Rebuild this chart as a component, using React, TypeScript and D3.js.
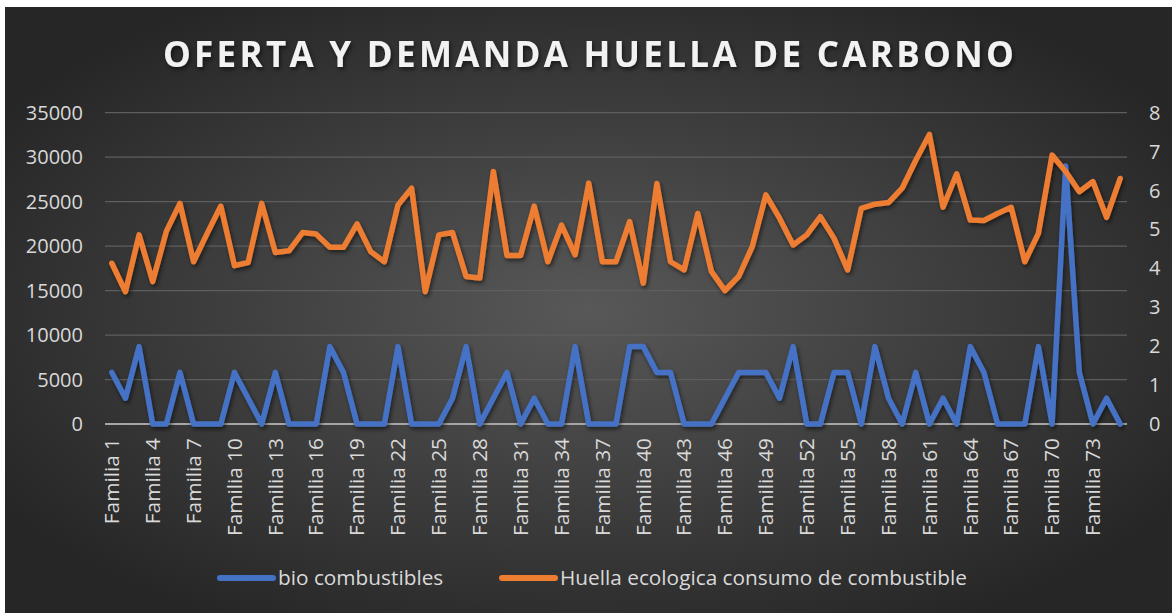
import * as d3 from 'd3';

const W = 1172;
const H = 613;

const categories = d3.range(1, 76).map(i => `Familia ${i}`);

const bioCombustibles = [
  5800, 2900, 8700, 0, 0, 5800, 0, 0, 0, 5800,
  2900, 0, 5800, 0, 0, 0, 8700, 5800, 0, 0,
  0, 8700, 0, 0, 0, 2900, 8700, 0, 2900, 5800,
  0, 2900, 0, 0, 8700, 0, 0, 0, 8700, 8700,
  5800, 5800, 0, 0, 0, 2900, 5800, 5800, 5800, 2900,
  8700, 0, 0, 5800, 5800, 0, 8700, 2900, 0, 5800,
  0, 2900, 0, 8700, 5800, 0, 0, 0, 8700, 0,
  29000, 5800, 0, 2900, 0,
];

const huella = [
  4.13, 3.40, 4.86, 3.66, 4.95, 5.67, 4.17, 4.90, 5.60, 4.07,
  4.15, 5.67, 4.41, 4.45, 4.92, 4.88, 4.54, 4.54, 5.14, 4.43,
  4.17, 5.63, 6.06, 3.40, 4.86, 4.92, 3.79, 3.75, 6.49, 4.33,
  4.33, 5.60, 4.17, 5.11, 4.35, 6.19, 4.17, 4.17, 5.20, 3.62,
  6.18, 4.17, 3.96, 5.41, 3.92, 3.43, 3.79, 4.56, 5.89, 5.29,
  4.60, 4.86, 5.33, 4.77, 3.96, 5.54, 5.65, 5.69, 6.06, 6.78,
  7.44, 5.57, 6.43, 5.24, 5.23, 5.41, 5.57, 4.17, 4.90, 6.91,
  6.49, 5.97, 6.23, 5.31, 6.31,
];

const leftTicks = [0, 5000, 10000, 15000, 20000, 25000, 30000, 35000];
const rightTicks = [0, 1, 2, 3, 4, 5, 6, 7, 8];

const series = [
  { label: 'bio combustibles', color: '#4472C4' },
  { label: 'Huella ecologica consumo de combustible', color: '#ED7D31' },
];

const PLOT = { left: 105, right: 1127, top: 112.7, bottom: 424 };
const FONT = '"Open Sans", sans-serif';

export default function App() {
  const x = d3.scalePoint<string>()
    .domain(categories)
    .range([PLOT.left, PLOT.right])
    .padding(0.5);
  const yL = d3.scaleLinear().domain([0, 35000]).range([PLOT.bottom, PLOT.top]);
  const yR = d3.scaleLinear().domain([0, 8]).range([PLOT.bottom, PLOT.top]);

  const bioLine = d3.line<number>()
    .x((_, i) => x(categories[i]) as number)
    .y(d => yL(d));
  const huellaLine = d3.line<number>()
    .x((_, i) => x(categories[i]) as number)
    .y(d => yR(d));

  const labelCats = categories.filter((_, i) => i % 3 === 0);

  return (
    <>
      <style>{'body{margin:0;background:#fff}'}</style>
      <svg width={W} height={H} style={{ display: 'block' }} fontFamily={FONT}>
        <defs>
          <radialGradient id="bg" cx="50%" cy="50%" r="60%">
            <stop offset="0%" stopColor="#585858" />
            <stop offset="100%" stopColor="#262626" />
          </radialGradient>
          <filter id="shadow" x="-5%" y="-10%" width="110%" height="130%">
            <feDropShadow dx="1.5" dy="2.5" stdDeviation="2" floodColor="#000" floodOpacity="0.55" />
          </filter>
        </defs>
        <rect x={5} y={7} width={W - 5} height={H - 7} fill="url(#bg)" />

        <text
          x={590} y={67} textAnchor="middle" fill="#f2f2f2"
          fontSize={35} fontWeight={700} letterSpacing={3.3}
          filter="url(#shadow)"
        >
          OFERTA Y DEMANDA HUELLA DE CARBONO
        </text>

        {leftTicks.map(t => (
          <line key={t} x1={PLOT.left} x2={PLOT.right} y1={yL(t)} y2={yL(t)}
            stroke={t === 0 ? '#a6a6a6' : '#5e5e5e'} strokeWidth={t === 0 ? 2 : 1.3} />
        ))}

        {leftTicks.map(t => (
          <text key={t} x={83} y={yL(t)} dy="0.35em" textAnchor="end"
            fill="#d9d9d9" fontSize={20}>{t}</text>
        ))}
        {rightTicks.map(t => (
          <text key={t} x={1149} y={yR(t)} dy="0.35em" textAnchor="start"
            fill="#d9d9d9" fontSize={20}>{t}</text>
        ))}

        {labelCats.map(c => (
          <text key={c} transform={`translate(${x(c)},438) rotate(-90)`}
            dy="0.35em" textAnchor="end" fill="#d9d9d9" fontSize={20.8}>{c}</text>
        ))}

        <g filter="url(#shadow)" fill="none" strokeLinejoin="round" strokeLinecap="round" strokeWidth={5.5}>
          <path d={bioLine(bioCombustibles) ?? ''} stroke={series[0].color} />
          <path d={huellaLine(huella) ?? ''} stroke={series[1].color} />
        </g>

        <g>
          <line x1={220} x2={273} y1={578} y2={578} stroke={series[0].color} strokeWidth={6} strokeLinecap="round" />
          <text x={278} y={578} dy="0.35em" fill="#d9d9d9" fontSize={20.8}>{series[0].label}</text>
          <line x1={502} x2={555} y1={578} y2={578} stroke={series[1].color} strokeWidth={6} strokeLinecap="round" />
          <text x={560} y={578} dy="0.35em" fill="#d9d9d9" fontSize={20.8}>{series[1].label}</text>
        </g>
      </svg>
    </>
  );
}
